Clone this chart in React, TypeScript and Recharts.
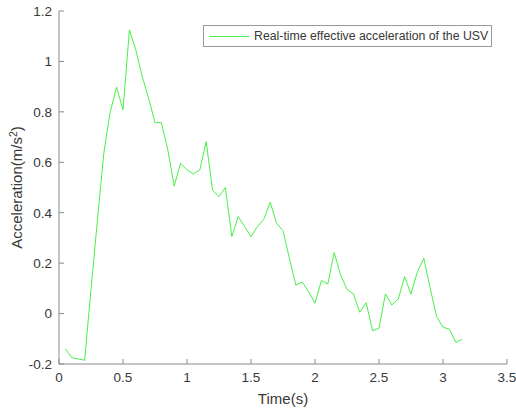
import React from "react"
import { LineChart, Line, XAxis, YAxis, Legend } from "recharts"

// sample times (s) and measured acceleration (m/s^2)
const TIMES = [
  0.05, 0.1, 0.15, 0.2, 0.25, 0.3, 0.35, 0.4, 0.45, 0.5,
  0.55, 0.6, 0.65, 0.7, 0.75, 0.8, 0.85, 0.9, 0.95, 1.0,
  1.05, 1.1, 1.15, 1.2, 1.25, 1.3, 1.35, 1.4, 1.45, 1.5,
  1.55, 1.6, 1.65, 1.7, 1.75, 1.8, 1.85, 1.9, 1.95, 2.0,
  2.05, 2.1, 2.15, 2.2, 2.25, 2.3, 2.35, 2.4, 2.45, 2.5,
  2.55, 2.6, 2.65, 2.7, 2.75, 2.8, 2.85, 2.9, 2.95, 3.0,
  3.05, 3.1, 3.15,
]

const ACCEL = [
  -0.14, -0.175, -0.18, -0.185, 0.095, 0.37, 0.636, 0.8, 0.898, 0.808,
  1.125, 1.046, 0.94, 0.854, 0.757, 0.757, 0.649, 0.506, 0.596, 0.57,
  0.554, 0.57, 0.682, 0.488, 0.464, 0.5, 0.305, 0.385, 0.345, 0.305,
  0.345, 0.374, 0.442, 0.358, 0.329, 0.219, 0.113, 0.125, 0.087, 0.041,
  0.131, 0.117, 0.242, 0.153, 0.096, 0.078, 0.005, 0.043, -0.068, -0.058,
  0.078, 0.034, 0.057, 0.146, 0.077, 0.166, 0.219, 0.1, -0.012, -0.054,
  -0.062, -0.114, -0.102,
]

const X_TICKS = [0, 0.5, 1, 1.5, 2, 2.5, 3, 3.5]
const Y_TICKS = [-0.2, 0, 0.2, 0.4, 0.6, 0.8, 1, 1.2]

const SERIES_NAME = "Real-time effective acceleration of the USV"

const chartData = TIMES.map((t, i) => ({ t, acc: ACCEL[i] }))

const FONT = "'Liberation Sans', Arial, Helvetica, sans-serif"
const AXIS_COLOR = "#8a8a8a"
const TEXT_COLOR = "#383838"
const LINE_COLOR = "#48f048"

const tickStyle = { fontSize: 13.5, fill: TEXT_COLOR, fontFamily: FONT }

function LegendBox() {
  return (
    <div
      style={{
        boxSizing: "border-box",
        width: 289,
        height: 22,
        border: "1px solid #9a9a9a",
        background: "#fff",
        display: "flex",
        alignItems: "center",
        fontFamily: FONT,
        fontSize: 12.3,
        color: TEXT_COLOR,
        whiteSpace: "nowrap",
      }}
    >
      <span
        style={{
          display: "inline-block",
          width: 40,
          height: 0,
          borderTop: `1px solid ${LINE_COLOR}`,
          marginLeft: 5,
          marginRight: 5,
        }}
      />
      <span>{SERIES_NAME}</span>
    </div>
  )
}

// rotated y label with a real superscript
function YLabel(props: any) {
  const vb = props.viewBox || {}
  const cx = 17
  const cy = (vb.y ?? 11) + (vb.height ?? 353) / 2
  return (
    <text
      x={cx}
      y={cy}
      transform={`rotate(-90, ${cx}, ${cy})`}
      textAnchor="middle"
      dy="0.36em"
      fontSize={15}
      fill={TEXT_COLOR}
      fontFamily={FONT}
    >
      Acceleration(m/s
      <tspan fontSize={10.5} dy="-0.55em">2</tspan>
      <tspan dy="0.38em">)</tspan>
    </text>
  )
}

export default function App() {
  return (
    <div style={{ position: "absolute", left: 0, top: 0, background: "#fff" }}>
      <LineChart
        width={516}
        height={410}
        data={chartData}
        margin={{ top: 11, right: 9, bottom: 0, left: 0 }}
      >
        <XAxis
          xAxisId="bottom"
          dataKey="t"
          type="number"
          domain={[0, 3.5]}
          ticks={X_TICKS}
          height={46}
          stroke={AXIS_COLOR}
          tickSize={-5}
          tickMargin={13}
          tick={tickStyle}
          label={{
            value: "Time(s)",
            position: "insideBottom",
            offset: 6,
            style: { fontSize: 15, fill: TEXT_COLOR, fontFamily: FONT },
          }}
        />
        <XAxis
          xAxisId="top"
          orientation="top"
          dataKey="t"
          type="number"
          domain={[0, 3.5]}
          ticks={X_TICKS}
          height={0}
          stroke={AXIS_COLOR}
          tickSize={-5}
          tickFormatter={() => ""}
        />
        <YAxis
          yAxisId="left"
          type="number"
          domain={[-0.2, 1.2]}
          ticks={Y_TICKS}
          width={59}
          stroke={AXIS_COLOR}
          tickSize={-5}
          tickMargin={12}
          tick={tickStyle}
          label={<YLabel />}
        />
        <YAxis
          yAxisId="right"
          orientation="right"
          type="number"
          domain={[-0.2, 1.2]}
          ticks={Y_TICKS}
          width={0}
          stroke={AXIS_COLOR}
          tickSize={-5}
          tickFormatter={() => ""}
        />
        <Legend
          layout="vertical"
          align="center"
          verticalAlign="middle"
          wrapperStyle={{ top: 25, left: 203, width: 289 }}
          content={() => <LegendBox />}
        />
        <Line
          xAxisId="bottom"
          yAxisId="left"
          type="linear"
          dataKey="acc"
          name={SERIES_NAME}
          stroke={LINE_COLOR}
          strokeWidth={1}
          dot={false}
          isAnimationActive={false}
        />
      </LineChart>
    </div>
  )
}
